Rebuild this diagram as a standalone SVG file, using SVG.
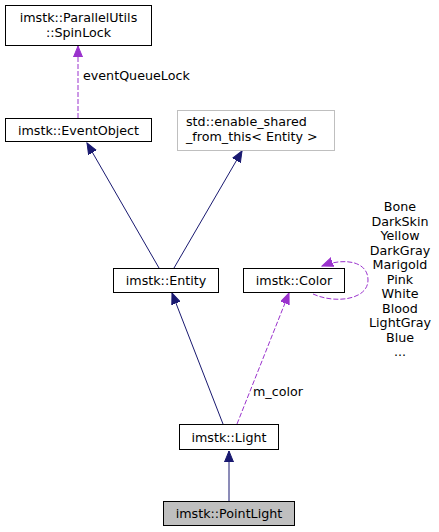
<svg xmlns="http://www.w3.org/2000/svg" width="439" height="532" viewBox="0 0 439 532">
<style>
text{font-family:"DejaVu Sans",sans-serif;font-size:12.7px;fill:#000}
.c{text-anchor:middle}
.box{fill:#fff;stroke:#000;stroke-width:1}
.gbox{fill:#fff;stroke:#bfbfbf;stroke-width:1}
.inh{fill:none;stroke:#191970;stroke-width:1}
.use{fill:none;stroke:#9a32cd;stroke-width:1;stroke-dasharray:5,2}
</style>
<defs>
<marker id="an" markerUnits="userSpaceOnUse" markerWidth="12" markerHeight="10" refX="11" refY="5" orient="auto" viewBox="0 0 12 10">
<path d="M0,0.5 L11,5 L0,9.5 z" fill="#191970" stroke="#191970"/>
</marker>
<marker id="ap" markerUnits="userSpaceOnUse" markerWidth="12" markerHeight="10" refX="11" refY="5" orient="auto" viewBox="0 0 12 10">
<path d="M0,0.5 L11,5 L0,9.5 z" fill="#9a32cd" stroke="#9a32cd"/>
</marker>
</defs>
<g id="edges">
<path class="use" d="M78,118 L78,46" marker-end="url(#ap)"/>
<text x="83" y="80">eventQueueLock</text>
<path class="inh" d="M159,268 L87,143" marker-end="url(#an)"/>
<path class="inh" d="M174,268 L242,151" marker-end="url(#an)"/>
<path class="inh" d="M223,424 L172,293" marker-end="url(#an)"/>
<path class="use" d="M237,424 L289,293" marker-end="url(#ap)"/>
<text x="253" y="396">m_color</text>
<path class="inh" d="M229,501 L229,451" marker-end="url(#an)"/>
<path class="use" d="M313,294 C335,304 368,300 368,280 C368,262 346,257 322,266" marker-end="url(#ap)"/>
<g class="c">
<text x="400" y="211">Bone</text>
<text x="400" y="225.5">DarkSkin</text>
<text x="400" y="240">Yellow</text>
<text x="400" y="254.5">DarkGray</text>
<text x="400" y="269">Marigold</text>
<text x="400" y="283.5">Pink</text>
<text x="400" y="298">White</text>
<text x="400" y="312.5">Blood</text>
<text x="400" y="327">LightGray</text>
<text x="400" y="341.5">Blue</text>
<text x="400" y="356">...</text>
</g>
</g>
<g id="spinlock">
<rect class="box" x="5.5" y="5.5" width="146" height="40"/>
<text class="c" x="78.5" y="22">imstk::ParallelUtils</text>
<text class="c" x="78.5" y="37">::SpinLock</text>
</g>
<g id="eventobject">
<rect class="box" x="5.5" y="118.5" width="146" height="23"/>
<text class="c" x="78.5" y="134.5">imstk::EventObject</text>
</g>
<g id="enable_shared">
<rect class="gbox" x="177.5" y="110.5" width="157" height="40"/>
<text x="186" y="126">std::enable_shared</text>
<text x="186" y="141">_from_this&lt; Entity &gt;</text>
</g>
<g id="entity">
<rect class="box" x="113.5" y="268.5" width="105" height="24"/>
<text class="c" x="166" y="285">imstk::Entity</text>
</g>
<g id="color">
<rect class="box" x="243.5" y="268.5" width="101" height="24"/>
<text class="c" x="294" y="285">imstk::Color</text>
</g>
<g id="light">
<rect class="box" x="179.5" y="424.5" width="99" height="25"/>
<text class="c" x="229" y="441.5">imstk::Light</text>
</g>
<g id="pointlight">
<rect class="box" x="163.5" y="501.5" width="131" height="24" style="fill:#bfbfbf"/>
<text class="c" x="229" y="518">imstk::PointLight</text>
</g>
</svg>
